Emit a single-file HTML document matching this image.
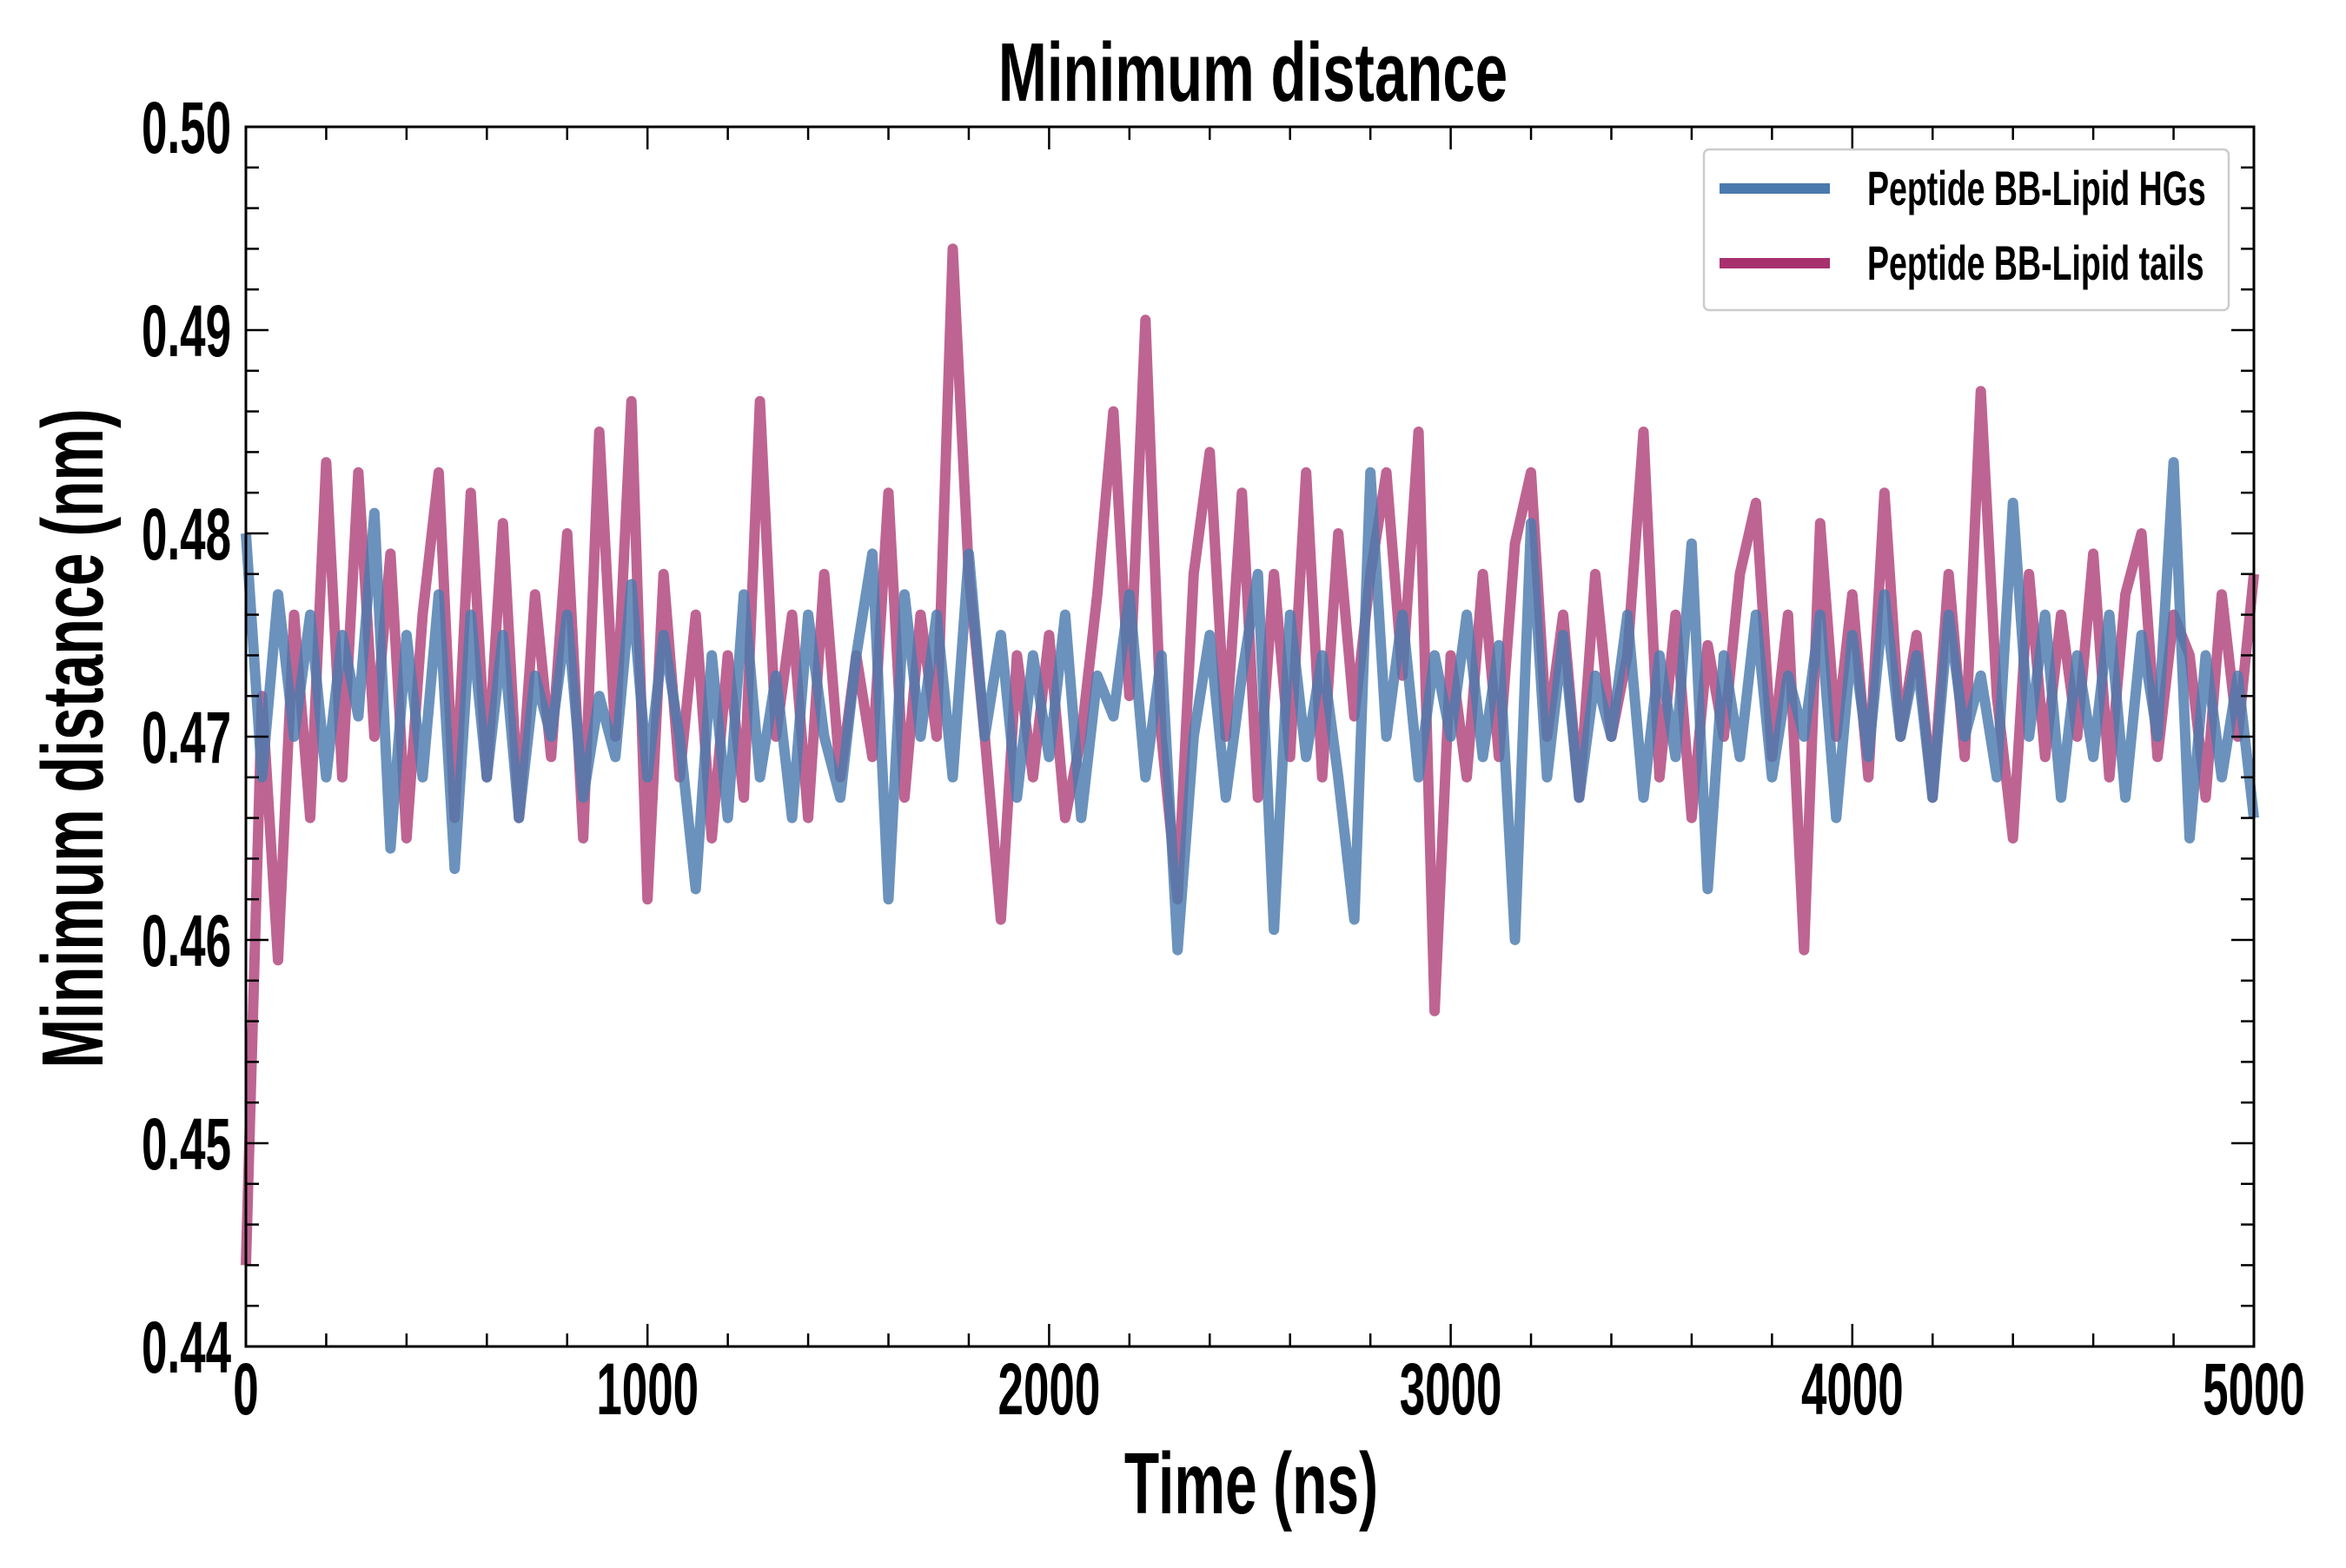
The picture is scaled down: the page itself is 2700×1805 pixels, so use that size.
<!DOCTYPE html>
<html><head><meta charset="utf-8"><style>
html,body{margin:0;padding:0;background:#fff;}
svg text{font-family:"Liberation Sans Narrow","Liberation Sans",sans-serif;font-weight:bold;fill:#000;}
</style></head><body>
<svg id="chart" width="2700" height="1800" viewBox="0 0 2700 1800" xmlns="http://www.w3.org/2000/svg">
<text transform="translate(1442,116) scale(0.7,1)" font-size="96" text-anchor="middle">Minimum distance</text>
<text transform="translate(1440,1742) scale(0.66,1)" font-size="100" text-anchor="middle">Time (ns)</text>
<text transform="translate(118,850) rotate(-90) scale(0.68,1)" font-size="100" text-anchor="middle">Minimum distance (nm)</text>
<g id="plot"></g>
</svg>
<script>
const xTicks=[0,1000,2000,3000,4000,5000];
const yTicks=[0.44,0.45,0.46,0.47,0.48,0.49,0.50];
const seriesNames=["Peptide BB-Lipid HGs","Peptide BB-Lipid tails"];
const tailsVals=[0.444,0.472,0.459,0.476,0.466,0.4835,0.468,0.483,0.470,0.479,0.465,0.476,0.483,0.466,0.482,0.468,0.4805,0.466,0.477,0.469,0.480,0.465,0.485,0.470,0.4865,0.462,0.478,0.468,0.476,0.465,0.474,0.467,0.4865,0.470,0.476,0.466,0.478,0.468,0.474,0.469,0.482,0.467,0.476,0.470,0.494,0.478,0.470,0.461,0.474,0.468,0.475,0.466,0.470,0.477,0.486,0.472,0.4905,0.470,0.462,0.478,0.484,0.470,0.482,0.467,0.478,0.469,0.483,0.468,0.480,0.471,0.478,0.483,0.473,0.485,0.4565,0.474,0.468,0.478,0.469,0.4795,0.483,0.470,0.476,0.467,0.478,0.470,0.474,0.485,0.468,0.476,0.466,0.4745,0.470,0.478,0.4815,0.469,0.476,0.4595,0.4805,0.470,0.477,0.468,0.482,0.470,0.475,0.467,0.478,0.469,0.487,0.472,0.465,0.478,0.469,0.476,0.470,0.479,0.468,0.477,0.480,0.469,0.476,0.474,0.467,0.477,0.470,0.478];
const hgVals=[0.480,0.468,0.477,0.470,0.476,0.468,0.475,0.471,0.481,0.4645,0.475,0.468,0.477,0.4635,0.476,0.468,0.475,0.466,0.473,0.470,0.476,0.467,0.472,0.469,0.4775,0.468,0.475,0.470,0.4625,0.474,0.466,0.477,0.468,0.473,0.466,0.476,0.470,0.467,0.474,0.479,0.462,0.477,0.470,0.476,0.468,0.479,0.470,0.475,0.467,0.474,0.469,0.476,0.466,0.473,0.471,0.477,0.468,0.474,0.4595,0.470,0.475,0.467,0.473,0.478,0.4605,0.476,0.469,0.474,0.468,0.461,0.483,0.470,0.476,0.468,0.474,0.470,0.476,0.469,0.4745,0.460,0.4805,0.468,0.475,0.467,0.473,0.470,0.476,0.467,0.474,0.469,0.4795,0.4625,0.474,0.469,0.476,0.468,0.473,0.470,0.476,0.466,0.475,0.469,0.477,0.470,0.474,0.467,0.476,0.470,0.473,0.468,0.4815,0.470,0.476,0.467,0.474,0.469,0.476,0.467,0.475,0.470,0.4835,0.465,0.474,0.468,0.473,0.466];
const timeStep=40;

const NS="http://www.w3.org/2000/svg";
const L=283,R=2594,T=146,B=1550;
const xs=v=>L+(v-0)/(5000-0)*(R-L);
const ys=v=>B-(v-0.44)/(0.50-0.44)*(B-T);
const g=document.getElementById('plot');
function mk(tag,attrs){const e=document.createElementNS(NS,tag);for(const k in attrs)e.setAttribute(k,attrs[k]);g.appendChild(e);return e;}
function path(vals,color,op,name){
  let d="";vals.forEach((v,i)=>{d+=(i?"L":"M")+xs(i*timeStep).toFixed(1)+","+ys(v).toFixed(1);});
  const p=mk('path',{d:d,fill:'none',stroke:color,'stroke-width':12,'stroke-linejoin':'round','stroke-opacity':op});
  
  
}
path(tailsVals,'#a8306e',0.75,'series-lipid-tails');
path(hgVals,'#4a7aad',0.82,'series-lipid-hgs');
const fr=mk('rect',{x:L,y:T,width:R-L,height:B-T,fill:'none',stroke:'#000','stroke-width':3});


for(let v=0;v<=5000;v+=200){const major=v%1000===0;const len=major?26:15;const x=xs(v);
  mk('line',{x1:x,x2:x,y1:B,y2:B-len,stroke:'#000','stroke-width':2.5});
  mk('line',{x1:x,x2:x,y1:T,y2:T+len,stroke:'#000','stroke-width':2.5});}
xTicks.forEach(v=>{const t=mk('text',{transform:`translate(${xs(v)},1628) scale(0.63,1)`,'font-size':84,'text-anchor':'middle'});t.textContent=v;
  
  });
for(let i=0;i<=30;i++){const v=0.44+i*0.002;const major=i%5===0;const len=major?26:15;const y=ys(v);
  mk('line',{x1:L,x2:L+len,y1:y,y2:y,stroke:'#000','stroke-width':2.5});
  mk('line',{x1:R,x2:R-len,y1:y,y2:y,stroke:'#000','stroke-width':2.5});}
yTicks.forEach(v=>{const t=mk('text',{transform:`translate(266,${ys(v)+30}) scale(0.63,1)`,'font-size':84,'text-anchor':'end'});t.textContent=v.toFixed(2);
  
  });
const lb=mk('rect',{x:1961,y:172,width:604,height:185,rx:6,fill:'#fff','fill-opacity':0.85,stroke:'#ccc','stroke-width':2.5});


const cols=['#4a7aad','#a8306e'];
seriesNames.forEach((n,i)=>{const y=217+i*86;
  const ln=mk('line',{x1:1979,x2:2106,y1:y,y2:y,stroke:cols[i],'stroke-width':12});
  
  
  const t=mk('text',{transform:`translate(2149,${y+19}) scale(0.67,1)`,'font-size':56});t.textContent=n;
  
  });
</script>
</body></html>
